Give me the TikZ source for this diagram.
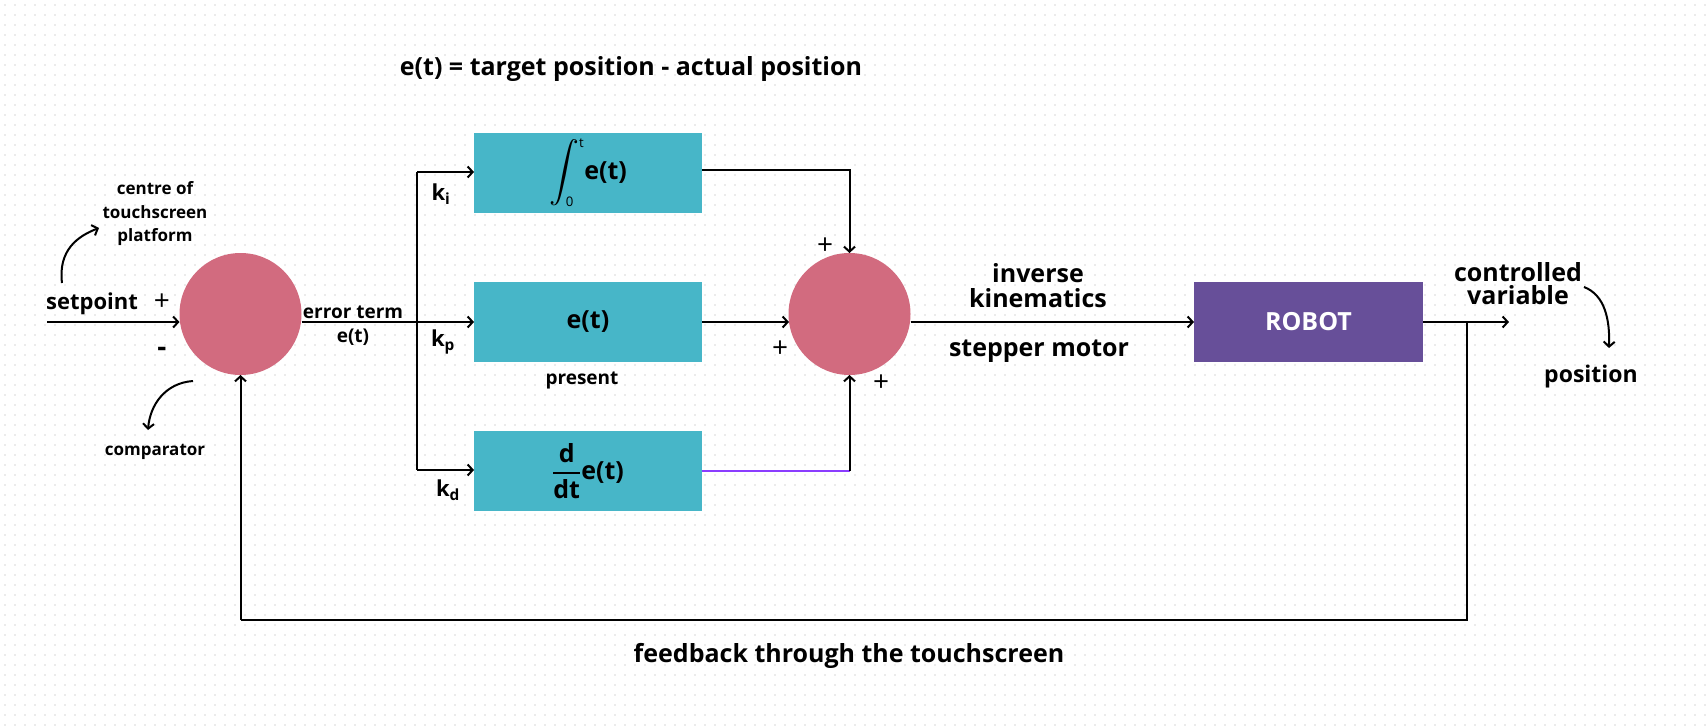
\documentclass[tikz,border=0pt]{standalone}
\usepackage{amsmath}
\usepackage{fontspec}
\setmainfont{Open Sans}
\usetikzlibrary{arrows.meta}
\definecolor{pinkc}{HTML}{D26B7F}
\definecolor{tealc}{HTML}{47B6C8}
\definecolor{robotc}{HTML}{674F99}
\definecolor{violetc}{HTML}{8B3DFF}
\definecolor{dotc}{HTML}{EBEBEB}
\newcommand{\fs}[1]{\fontsize{#1}{#1}\selectfont}
\newcommand{\fsl}[2]{\fontsize{#1}{#2}\selectfont}
\begin{document}
\begin{tikzpicture}[x=1pt,y=-1pt,
  every node/.style={inner sep=0pt,outer sep=0pt},
  conn/.style={line width=2pt,draw=black},
  arr/.style={conn,-{Straight Barb[length=5pt,width=11pt]}},
  sumc/.style={circle,fill=pinkc,minimum size=122pt},
  blk/.style={rectangle,fill=tealc,minimum width=228pt,minimum height=80pt,font=\bfseries\fs{25}},
  txa/.style={font=\bfseries\fs{17},align=center},
  txb/.style={font=\bfseries\fs{19},align=center},
  txc/.style={font=\bfseries\fs{22},align=center},
  txd/.style={font=\bfseries\fs{25},align=center},
  pls/.style={font=\fs{28}}
]
\fill[white] (0,0) rectangle (1706,728);
\useasboundingbox (0,0) rectangle (1706,728);
\foreach \y in {5,15,...,725}
  \draw[dotc,line width=2pt,dash pattern=on 2pt off 8pt] (4,\y) -- (1706,\y);

% main blocks
\node[sumc] (cmp) at (240.5,314) {};
\node[sumc] (sum) at (849.5,314) {};
\node[blk] (bi) at (588,172.5) {\scalebox{1.2}{$\displaystyle\int_{\mbox{\fs{11}\mdseries 0}}^{\mbox{\fs{11}\mdseries t}}$}e(t)};
\node[blk] (bp) at (588,322) {e(t)};
\node[blk] (bd) at (588,471) {$\genfrac{}{}{1.8pt}{0}{\mbox{d}}{\mbox{dt}}$e(t)};
\node[rectangle,fill=robotc,minimum width=229pt,minimum height=80pt,text=white,font=\bfseries\fs{25}] (robot) at (1308.5,322) {ROBOT};

% coordinates
\coordinate (sp) at (47,322);
\coordinate (br) at (417,322);
\coordinate (brt) at (417,172);
\coordinate (brb) at (417,470);
\coordinate (out) at (1509,322);
\coordinate (fbt) at (1467,322);
\coordinate (fbr) at (1467,620);
\coordinate (fbl) at (240.5,620);

% connectors
\draw[arr] (sp) -- (sp -| cmp.west);
\draw[conn] (cmp.east |- br) -- (br);
\draw[conn] (brt) -- (brb);
\draw[arr] (brt) -- (bi.west |- brt);
\draw[arr] (br) -- (bp.west);
\draw[arr] (brb) -- (bd.west |- brb);
\draw[arr] (bi.east |- 0,170) -| (sum.north);
\draw[arr] (bp.east) -- (bp.east -| 789,0);
\draw[violetc,line width=2.6pt] (bd.east) -- (bd.east -| sum.south);
\draw[arr] (bd.east -| sum.south) -- (sum.south);
\draw[arr] (sum.east |- robot.west) -- (robot.west);
\draw[arr] (robot.east) -- (out);
\draw[conn] (fbt) -- (fbr) -- (fbl);
\draw[arr] (fbl) -- (cmp.south);

% curved annotation arrows
\coordinate (c1s) at (62,283); \coordinate (c1e) at (99,228);
\draw[arr] (c1s) .. controls (58,250) and (78,236) .. (c1e);
\coordinate (c2s) at (193,381); \coordinate (c2e) at (148,430);
\draw[arr] (c2s) .. controls (165,383) and (150,405) .. (c2e);
\coordinate (c3s) at (1584,287); \coordinate (c3e) at (1609,348);
\draw[arr] (c3s) .. controls (1605,295) and (1610,320) .. (c3e);

% labels
\node[txd] (title) at (631,69) {e(t) = target position - actual position};
\node[txc] (lsp) at (92,304) {setpoint};
\node[pls] (p1) at (162,302) {+};
\node[font=\bfseries\fs{28}] (m1) at (162,352) {-};
\node[align=center,font=\bfseries\fsl{17}{23.5}] (lcen) at (155,214) {centre of\\touchscreen\\platform};
\node[txa] (lcmp) at (155,452) {comparator};
\node[txb] (lerr) at (353,312) {error term};
\node[txb] (lerr2) at (353,337) {e(t)};
\node[txc] (ki) at (441,194) {k\textsubscript{i}};
\node[txc] (kp) at (443,342) {k\textsubscript{p}};
\node[txc] (kd) at (448,490) {k\textsubscript{d}};
\node[txb] (lpres) at (582,380) {present};
\node[pls] (p2) at (825,246) {+};
\node[pls] (p3) at (780,349) {+};
\node[pls] (p4) at (881,383) {+};
\node[align=center,font=\bfseries\fsl{25}{25}] (linv) at (1038,286) {inverse\\kinematics};
\node[txd] (lstep) at (1039,351) {stepper motor};
\node[align=center,font=\bfseries\fsl{25}{23}] (lctl) at (1518,284) {controlled\\variable};
\node[font=\bfseries\fs{23}] (lpos) at (1591,377) {position};
\node[txd] (lfb) at (849,656) {feedback through the touchscreen};
\end{tikzpicture}
\end{document}
